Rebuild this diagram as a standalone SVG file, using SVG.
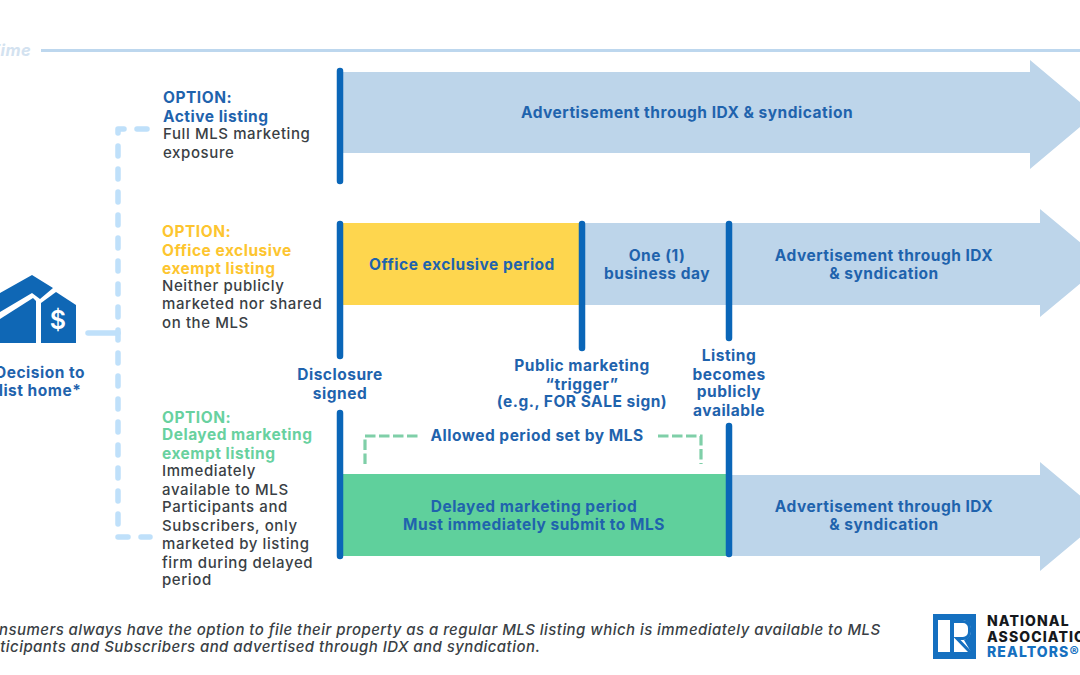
<svg xmlns="http://www.w3.org/2000/svg" width="1080" height="675" viewBox="0 0 1080 675">
<style>
text{font-family:Inter,"Open Sans","Liberation Sans",sans-serif}
.h{font-size:15.5px;font-weight:700;fill:#1f63ad;letter-spacing:.5px;transform:translateY(.6px)}
.c{text-anchor:middle}
.b{font-size:15px;font-weight:500;fill:#3a3f45;letter-spacing:.6px;transform:translateY(.4px)}
.o{fill:#fdc52f}.g{fill:#68d19f}
.ar{fill:#bdd5ea}
.bar{stroke:#0a66b8;stroke-width:6.5;stroke-linecap:round;fill:none}
.dash{fill:none;stroke:#bfe0fa;stroke-width:5.5;stroke-linecap:round;stroke-linejoin:round;stroke-dasharray:10 13}
.gd{fill:none;stroke:#7fcfa8;stroke-width:3.2;stroke-dasharray:10.5 3.5}
.lg{font-size:14px;font-weight:800;letter-spacing:1.1px}
</style>
<rect width="1080" height="675" fill="#fff"/>
<g id="timeline"><text x="-11" y="56" font-size="16.5" font-style="italic" font-weight="700" letter-spacing=".5" fill="#d3e2f0">Time</text><path d="M41 50.5H1080" stroke="#bdd7ee" stroke-width="3"/></g>
<g id="connectors">
<path d="M88 333H118" fill="none" stroke="#bfe0fa" stroke-width="5.5" stroke-linecap="round"/>
<path class="dash" d="M147 129H118V537H150"/>
<path class="gd" d="M365 464V436H420"/>
<path class="gd" d="M658 436H701V464"/>
</g>
<g id="decision">
<path fill="#0f67b5" d="M32 275L53 288L40 299L32 293L0 312V293Z"/>
<path fill="#0f67b5" d="M33 298L36 301V343H0V319Z"/>
<path fill="#0f67b5" d="M41 303L56 292L76 305V343H41Z"/>
<text x="58" y="329" class="c" font-size="25" font-weight="600" fill="#fff">$</text>
<text x="40" y="377" class="h c">Decision to</text>
<text x="40" y="395" class="h c">list home*</text>
</g>
<g id="active-option">
<text x="163" y="102" class="h">OPTION:</text><text x="163" y="121" class="h">Active listing</text>
<text x="163" y="139" class="b">Full MLS marketing</text><text x="163" y="158" class="b">exposure</text>
</g>
<g id="office-option">
<text x="162" y="236" class="h o">OPTION:</text><text x="162" y="255" class="h o">Office exclusive</text><text x="162" y="273" class="h o">exempt listing</text>
<text x="162" y="291" class="b">Neither publicly</text><text x="162" y="309" class="b">marketed nor shared</text><text x="162" y="328" class="b">on the MLS</text>
</g>
<g id="delayed-option">
<text x="162" y="422" class="h g">OPTION:</text><text x="162" y="439" class="h g">Delayed marketing</text><text x="162" y="458" class="h g">exempt listing</text>
<text x="162" y="476" class="b">Immediately</text><text x="162" y="495" class="b">available to MLS</text><text x="162" y="512" class="b">Participants and</text><text x="162" y="531" class="b">Subscribers, only</text><text x="162" y="549" class="b">marketed by listing</text><text x="162" y="568" class="b">firm during delayed</text><text x="162" y="585" class="b">period</text>
</g>
<g id="arrow-active">
<path class="ar" d="M340 72H1030V60L1095 114.5L1030 169V153H340Z"/>
<text x="687" y="117" class="h c">Advertisement through IDX &amp; syndication</text>
<path class="bar" d="M340 71V181"/>
</g>
<g id="arrow-office">
<path class="ar" d="M582 223H1040V209L1105 263L1040 317V305H582Z"/>
<rect x="340" y="223" width="242" height="82" fill="#fed64e"/>
<text x="462" y="269" class="h c">Office exclusive period</text>
<text x="657" y="260" class="h c">One (1)</text><text x="657" y="278" class="h c">business day</text>
<text x="884" y="260" class="h c">Advertisement through IDX</text><text x="884" y="278" class="h c">&amp; syndication</text>
<path class="bar" d="M340 224V356"/><path class="bar" d="M582 224V348"/><path class="bar" d="M729 224V338"/>
</g>
<g id="arrow-delayed">
<path class="ar" d="M729 475H1040V462L1105 516.5L1040 571V556H729Z"/>
<rect x="340" y="474" width="389" height="82" fill="#5fd09c"/>
<text x="534" y="511" class="h c">Delayed marketing period</text><text x="534" y="529" class="h c">Must immediately submit to MLS</text>
<text x="884" y="511" class="h c">Advertisement through IDX</text><text x="884" y="529" class="h c">&amp; syndication</text>
<path class="bar" d="M340 413V556"/><path class="bar" d="M729 426V554"/>
</g>
<g id="milestones">
<text x="340" y="379" class="h c">Disclosure</text><text x="340" y="398" class="h c">signed</text>
<text x="582" y="370" class="h c">Public marketing</text><text x="582" y="389" class="h c">“trigger”</text><text x="582" y="406" class="h c">(e.g., FOR SALE sign)</text>
<text x="729" y="360" class="h c">Listing</text><text x="729" y="379" class="h c">becomes</text><text x="729" y="396" class="h c">publicly</text><text x="729" y="415" class="h c">available</text>
<text x="537" y="440" class="h c">Allowed period set by MLS</text>
</g>
<g id="footnote" font-size="15" font-style="italic" font-weight="500" letter-spacing=".45" fill="#3a3f45">
<text x="-22" y="635">Consumers always have the option to file their property as a regular MLS listing which is immediately available to MLS</text>
<text x="-26" y="652">Participants and Subscribers and advertised through IDX and syndication.</text>
</g>
<g id="logo">
<rect x="933" y="614" width="43" height="45" fill="#1570c0"/>
<path fill="#fff" d="M938 620H950V652H938Z"/>
<path fill="#fff" d="M954 620H964A11 11 0 0 1 971 628V632A10 10 0 0 1 964 640L971 652H954Z"/>
<path fill="none" stroke="#1570c0" stroke-width="3" d="M954 621.5H963A6.5 6.5 0 0 1 969.5 628V632A6.5 6.5 0 0 1 963 638.5H957L971 653"/>
<text x="987" y="626" class="lg" fill="#15181c">NATIONAL</text>
<text x="987" y="642" class="lg" fill="#15181c">ASSOCIATION</text>
<text x="987" y="657" class="lg" fill="#1570c0">REALTORS®</text>
</g>
</svg>
